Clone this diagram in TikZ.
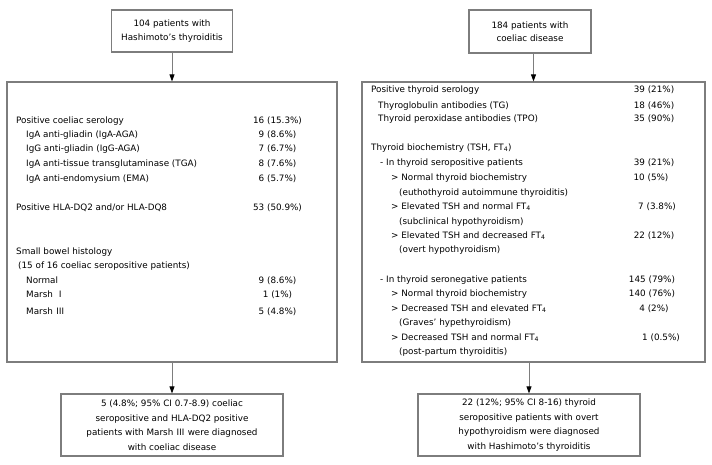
\documentclass[tikz,border=0pt]{standalone}
\usepackage{fontspec}
\setmainfont{DejaVu Sans}
\newfontfamily\cjk{Noto Sans CJK SC}
\usetikzlibrary{arrows.meta}
\definecolor{framegray}{RGB}{125,125,125}
\newcommand{\ftf}{FT\textsubscript{4}}
\tikzset{
  box/.style={draw=framegray, line width=1.2pt, align=center, inner sep=0pt},
  row/.style={anchor=west, inner sep=0pt, text height=6.5pt, text depth=2pt},
  num/.style={inner sep=0pt, text height=6.5pt, text depth=2pt},
  arr/.style={draw=framegray, line width=0.8pt, -{Triangle[length=7pt,width=5pt,black]}}
}
\begin{document}
\begin{tikzpicture}[x=1pt, y=-1pt, font=\fontsize{8.8}{13.5}\selectfont]
    \useasboundingbox (0,0) rectangle (712,465);
    \node[box, minimum width=121pt, minimum height=42pt] (ht) at (172,31) {104 patients with\\Hashimoto’s thyroiditis};
    \node[box, minimum width=122pt, minimum height=43pt] (cd) at (530,31.5) {184 patients with\\coeliac disease};
    \node[box, minimum width=330pt, minimum height=280pt] (ls) at (172,222) {};
    \node[box, minimum width=343pt, minimum height=280pt] (rs) at (533.5,222) {};
    \node[box, minimum width=222pt, minimum height=62pt, font=\fontsize{8.8}{14.5}\selectfont] (lr) at (172,425)
      {5 (4.8\%; 95\% CI 0.7-8.9) coeliac\\seropositive and HLA-DQ2 positive\\patients with Marsh {\cjk Ⅲ} were diagnosed\\with coeliac disease};
    \node[box, minimum width=222pt, minimum height=62pt, font=\fontsize{8.8}{14.5}\selectfont] (rr) at (529,425)
      {22 (12\%; 95\% CI 8-16) thyroid\\seropositive patients with overt\\hypothyroidism were diagnosed\\with Hashimoto’s thyroiditis};
    % left table
    \foreach \x/\y/\t [count=\i] in {16/121/{Positive coeliac serology}, 26/135/{IgA anti-gliadin (IgA-AGA)},
        26/149/{IgG anti-gliadin (IgG-AGA)}, 26/164/{IgA anti-tissue transglutaminase (TGA)},
        26/179/{IgA anti-endomysium (EMA)}, 16/208/{Positive HLA-DQ2 and/or HLA-DQ8},
        16/252/{Small bowel histology}, 18/266/{(15 of 16 coeliac seropositive patients)},
        26/281/{Normal}, 26/295/{Marsh {\cjk Ⅰ}}, 26/312/{Marsh {\cjk Ⅲ}}}
      { \node[row] (l\i) at (\x,\y) {\t}; }
    \foreach \y/\v [count=\i] in {121/{16 (15.3\%)}, 135/{9 (8.6\%)}, 149/{7 (6.7\%)}, 164/{8 (7.6\%)},
        179/{6 (5.7\%)}, 208/{53 (50.9\%)}, 281/{9 (8.6\%)}, 295/{1 (1\%)}, 312/{5 (4.8\%)}}
      { \node[num] (lv\i) at (277.5,\y) {\v}; }
    % right table
    \foreach \x/\y/\t [count=\i] in {371/90/{Positive thyroid serology}, 378/106/{Thyroglobulin antibodies (TG)},
        378/119/{Thyroid peroxidase antibodies (TPO)}, 371/148/{Thyroid biochemistry (TSH, \ftf)},
        380/163/{- In thyroid seropositive patients}, 391/178/{> Normal thyroid biochemistry},
        399/193/{(euthothyroid autoimmune thyroiditis)}, 391/207/{> Elevated TSH and normal \ftf},
        399/222/{(subclinical hypothyroidism)}, 391/236/{> Elevated TSH and decreased \ftf},
        399/250/{(overt hypothyroidism)}, 380/280/{- In thyroid seronegative patients},
        391/294/{> Normal thyroid biochemistry}, 391/309/{> Decreased TSH and elevated \ftf},
        399/323/{(Graves’ hypethyroidism)}, 391/338/{> Decreased TSH and normal \ftf},
        399/352/{(post-partum thyroiditis)}}
      { \node[row] (r\i) at (\x,\y) {\t}; }
    \foreach \x/\y/\v [count=\i] in {654/90/{39 (21\%)}, 654/106/{18 (46\%)}, 654/119/{35 (90\%)},
        654/163/{39 (21\%)}, 651/178/{10 (5\%)}, 657/207/{7 (3.8\%)}, 654/236/{22 (12\%)},
        652/280/{145 (79\%)}, 652/294/{140 (76\%)}, 654/309/{4 (2\%)}, 661/338/{1 (0.5\%)}}
      { \node[num] (rv\i) at (\x,\y) {\v}; }
    \foreach \u/\v in {ht/ls,cd/rs,ls/lr,rs/rr} { \draw[arr] (\u.south -| \v) -- (\v.north); }
  \end{tikzpicture}
\end{document}
